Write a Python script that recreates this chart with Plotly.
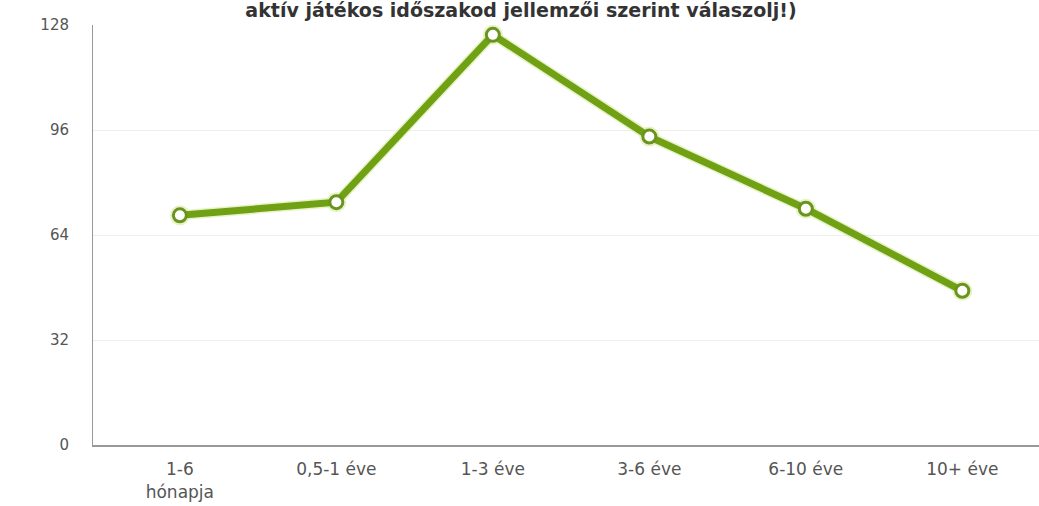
import plotly.graph_objects as go

categories = ["1-6<br>hónapja", "0,5-1 éve", "1-3 éve", "3-6 éve", "6-10 éve", "10+ éve"]
values = [70, 74, 125, 94, 72, 47]
y_ticks = [0, 32, 64, 96, 128]
title_visible = "aktív játékos időszakod jellemzői szerint válaszolj!)"

x_idx = list(range(len(categories)))

fig = go.Figure()
# soft halo under the line
fig.add_trace(go.Scatter(
    x=x_idx, y=values, mode="lines",
    line=dict(color="rgba(215,235,160,0.6)", width=10),
    hoverinfo="skip", showlegend=False,
))
fig.add_trace(go.Scatter(
    x=x_idx, y=values, mode="markers",
    marker=dict(size=20, color="rgba(225,240,180,0.8)"),
    hoverinfo="skip", showlegend=False,
))
fig.add_trace(go.Scatter(
    x=x_idx, y=values, mode="lines+markers",
    line=dict(color="#70a014", width=7),
    marker=dict(size=13, color="white", line=dict(color="#6a9420", width=3)),
    showlegend=False,
))

fig.update_layout(
    width=1039, height=506,
    margin=dict(l=93, r=0, t=25, b=61),
    paper_bgcolor="white", plot_bgcolor="white",
    title=dict(
        text=title_visible,
        x=521 / 1039, xanchor="center",
        y=1, yanchor="top", pad=dict(t=4),
        font=dict(family="DejaVu Sans", size=19, color="#333333", weight="bold"),
    ),
    xaxis=dict(
        range=[-0.555, 5.49],
        tickmode="array", tickvals=x_idx, ticktext=categories,
        showgrid=False, zeroline=False,
        showline=True, linecolor="#999999", linewidth=2,
        ticks="", ticklabelstandoff=8,
        tickfont=dict(family="DejaVu Sans", size=17, color="#555555"),
    ),
    yaxis=dict(
        range=[0, 128], tickmode="array", tickvals=y_ticks,
        ticktext=[str(v) for v in y_ticks],
        showgrid=True, gridcolor="#eeeeee", gridwidth=1,
        zeroline=False, showline=True, linecolor="#999999", linewidth=1,
        ticks="", ticklabelstandoff=20,
        tickfont=dict(family="DejaVu Sans", size=15, color="#555555"),
    ),
)

fig.write_html(
    "out.html",
    config={"displayModeBar": False},
    post_script="document.body.style.margin='0';document.body.style.padding='0';",
)
